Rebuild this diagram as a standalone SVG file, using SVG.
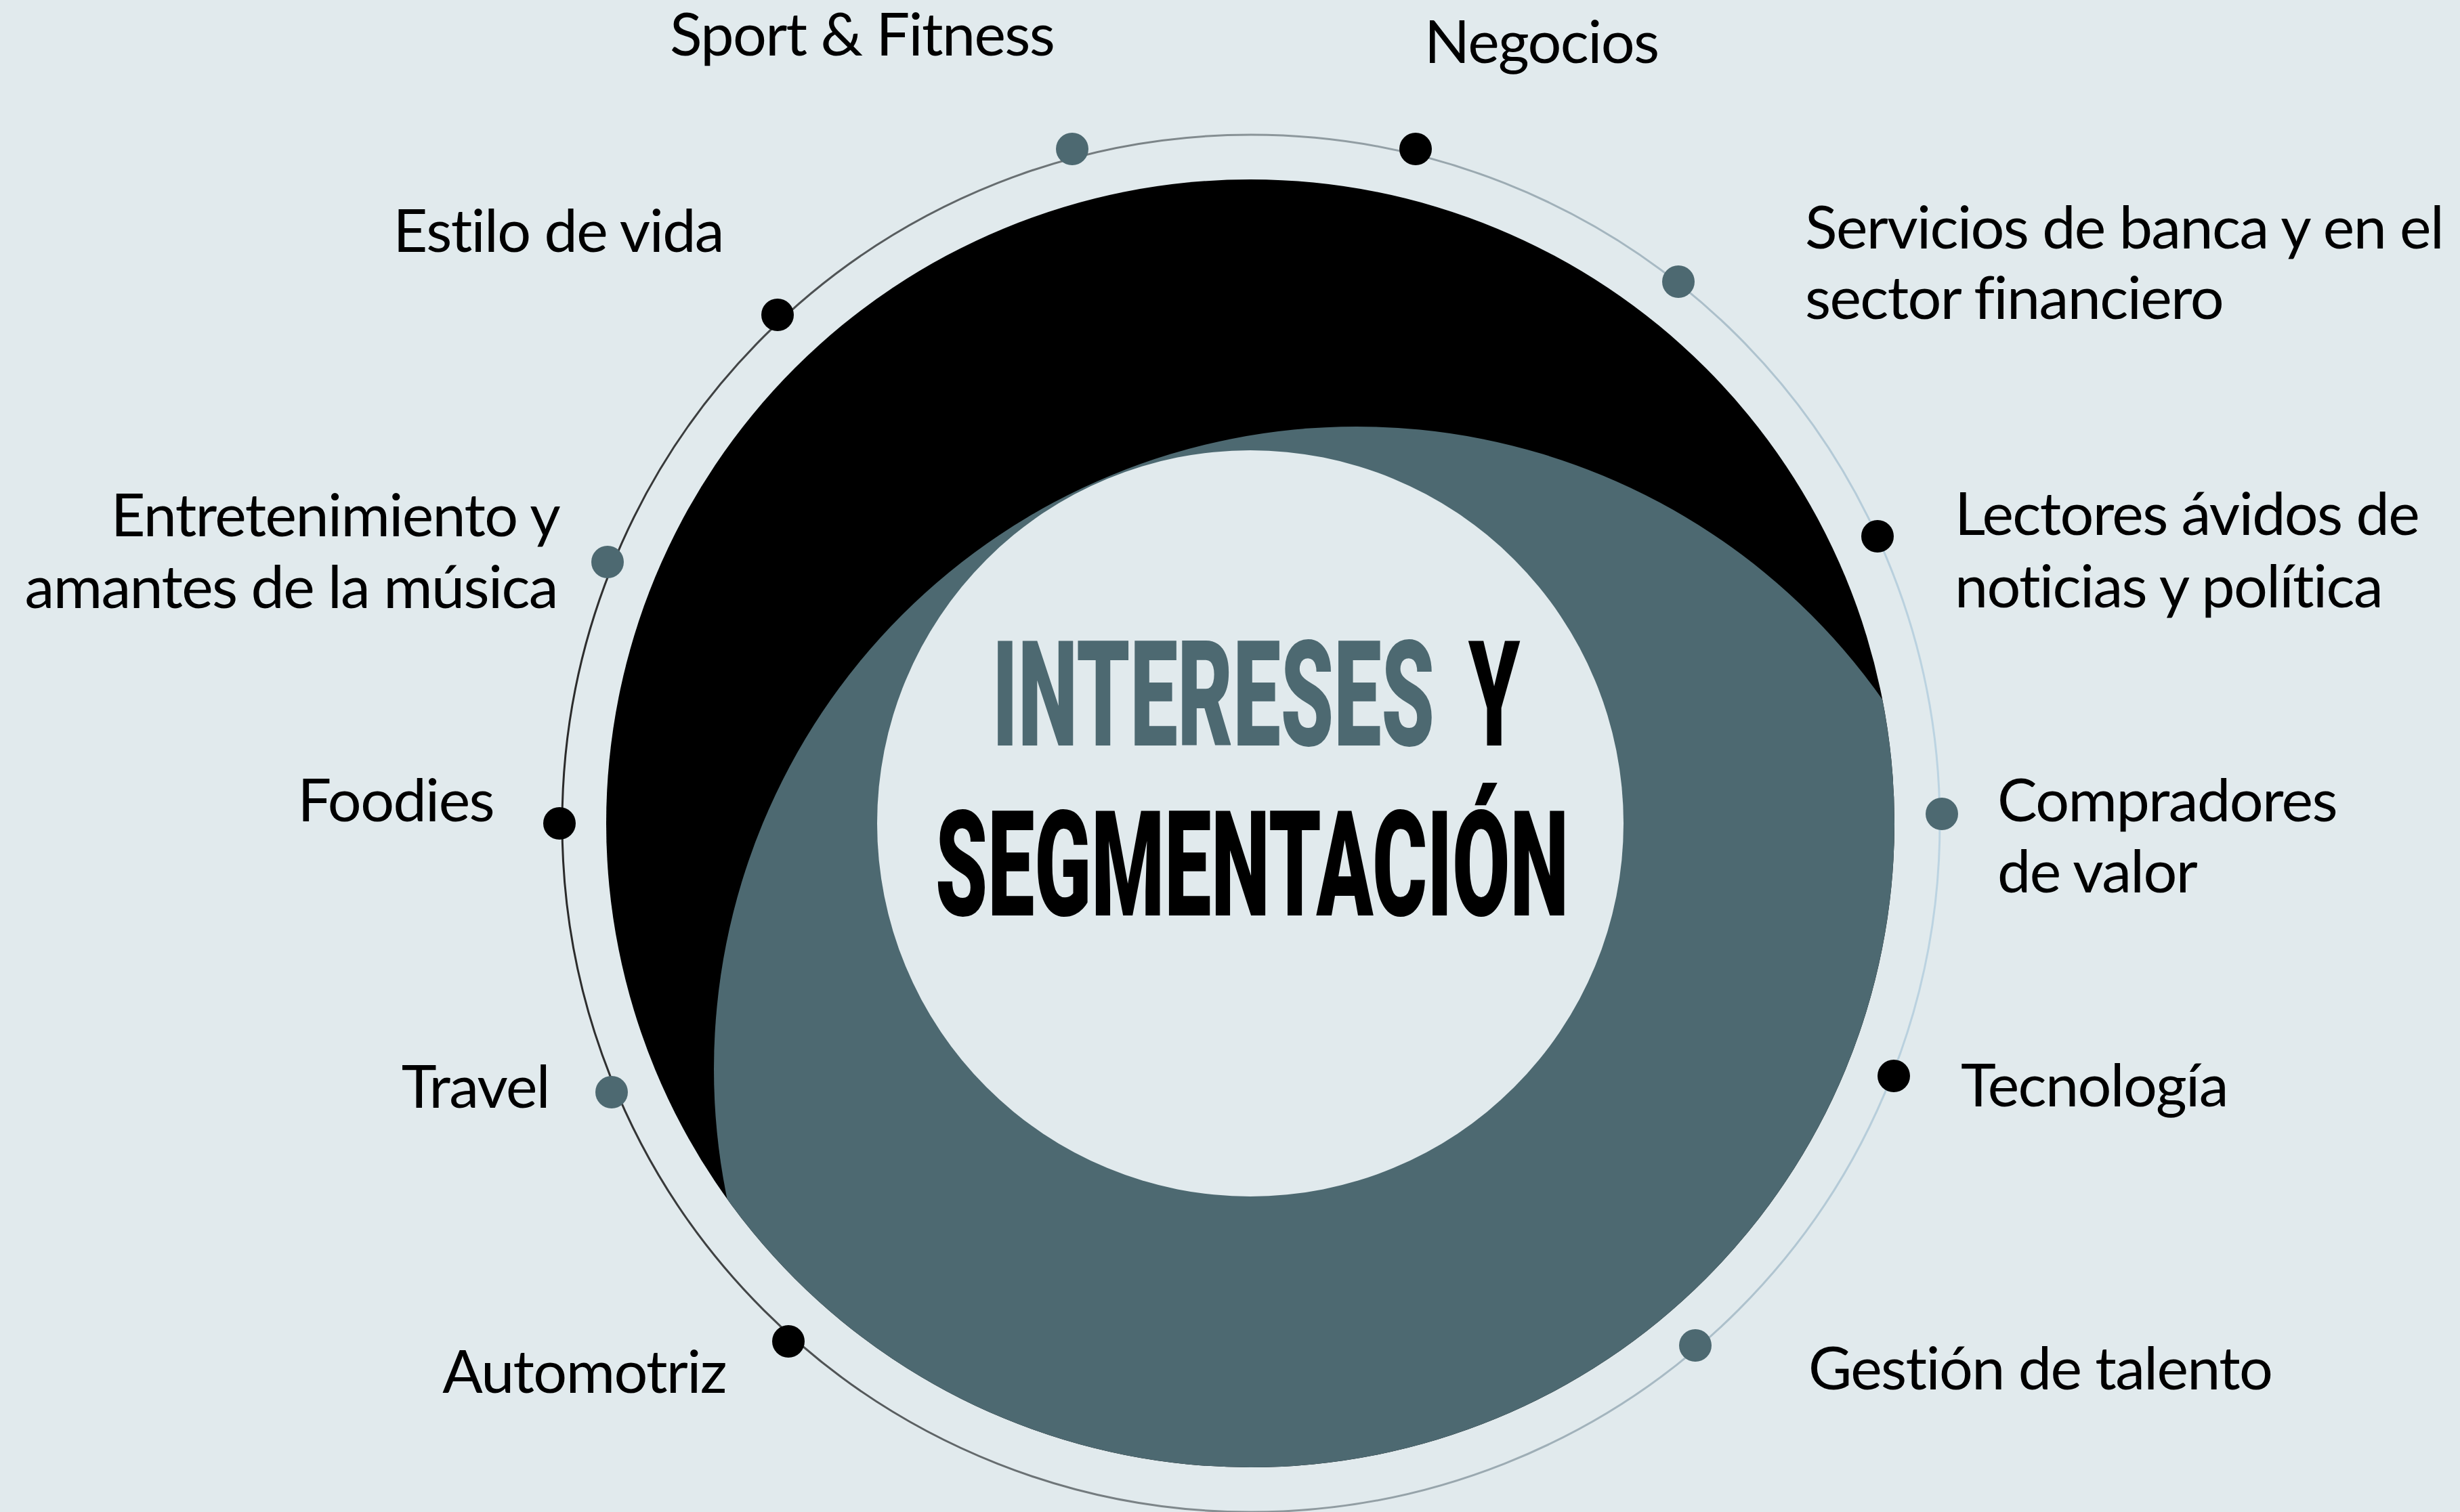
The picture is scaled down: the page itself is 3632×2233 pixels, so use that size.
<svg xmlns="http://www.w3.org/2000/svg" width="3632" height="2233" viewBox="0 0 3632 2233">
<defs>
<style>
.lbl{font-family:Lato,"Noto Sans","Liberation Sans",sans-serif;font-size:88px;letter-spacing:-1.6px;fill:#000;}
.end{text-anchor:end;}
.ttl{font-family:Roboto,"Liberation Sans",sans-serif;font-weight:900;font-size:218px;}
.dk{fill:#000;}
.gr{fill:#4d6971;}
</style>
<linearGradient id="ringGrad" gradientUnits="userSpaceOnUse" x1="829" y1="0" x2="2865" y2="0">
<stop offset="0" stop-color="#2a2a2a"/>
<stop offset="0.5" stop-color="#8a9498"/>
<stop offset="1" stop-color="#bcd4e2"/>
</linearGradient>
<clipPath id="bigClip"><circle cx="1846" cy="1216" r="951"/></clipPath>
</defs>
<rect width="3632" height="2233" fill="#e1eaed"/>
<g id="ring">
<circle cx="1847" cy="1216" r="1017" fill="none" stroke="url(#ringGrad)" stroke-width="3"/>
</g>
<g id="core">
<circle cx="1846" cy="1216" r="951" fill="#000"/>
<circle cx="2003" cy="1579" r="949" fill="#4d6971" clip-path="url(#bigClip)"/>
<circle cx="1846" cy="1216" r="551" fill="#e1eaed"/>
<text class="ttl" x="1465" y="1101" fill="#4d6971" textLength="653" lengthAdjust="spacingAndGlyphs">INTERESES</text>
<text class="ttl" x="2168" y="1101" fill="#000" textLength="76" lengthAdjust="spacingAndGlyphs">Y</text>
<text class="ttl" x="1381" y="1352" fill="#000" textLength="935" lengthAdjust="spacingAndGlyphs">SEGMENTACIÓN</text>
</g>
<g id="n-sport"><circle class="gr" cx="1583" cy="220" r="24"/><text class="lbl" x="989" y="82">Sport &amp; Fitness</text></g>
<g id="n-negocios"><circle class="dk" cx="2090" cy="220" r="24"/><text class="lbl" x="2103" y="93">Negocios</text></g>
<g id="n-estilo"><circle class="dk" cx="1148" cy="465" r="24"/><text class="lbl end" x="1068" y="372">Estilo de vida</text></g>
<g id="n-servicios"><circle class="gr" cx="2478" cy="416" r="24"/><text class="lbl" x="2665" y="367">Servicios de banca y en el</text><text class="lbl" x="2665" y="471">sector financiero</text></g>
<g id="n-lectores"><circle class="dk" cx="2772" cy="792" r="24"/><text class="lbl" x="2886" y="790">Lectores ávidos de</text><text class="lbl" x="2886" y="897">noticias y política</text></g>
<g id="n-entretenimiento"><circle class="gr" cx="897" cy="830" r="24"/><text class="lbl end" x="826" y="792">Entretenimiento y</text><text class="lbl end" x="823" y="898">amantes de la música</text></g>
<g id="n-foodies"><circle class="dk" cx="826" cy="1216" r="24"/><text class="lbl end" x="729" y="1213">Foodies</text></g>
<g id="n-compradores"><circle class="gr" cx="2867" cy="1202" r="24"/><text class="lbl" x="2949" y="1213">Compradores</text><text class="lbl" x="2949" y="1318">de valor</text></g>
<g id="n-tecnologia"><circle class="dk" cx="2796" cy="1589" r="24"/><text class="lbl" x="2895" y="1634">Tecnología</text></g>
<g id="n-travel"><circle class="gr" cx="903" cy="1613" r="24"/><text class="lbl end" x="811" y="1636">Travel</text></g>
<g id="n-automotriz"><circle class="dk" cx="1164" cy="1981" r="24"/><text class="lbl end" x="1072" y="2057">Automotriz</text></g>
<g id="n-gestion"><circle class="gr" cx="2503" cy="1987" r="24"/><text class="lbl" x="2670" y="2052">Gestión de talento</text></g>
</svg>
